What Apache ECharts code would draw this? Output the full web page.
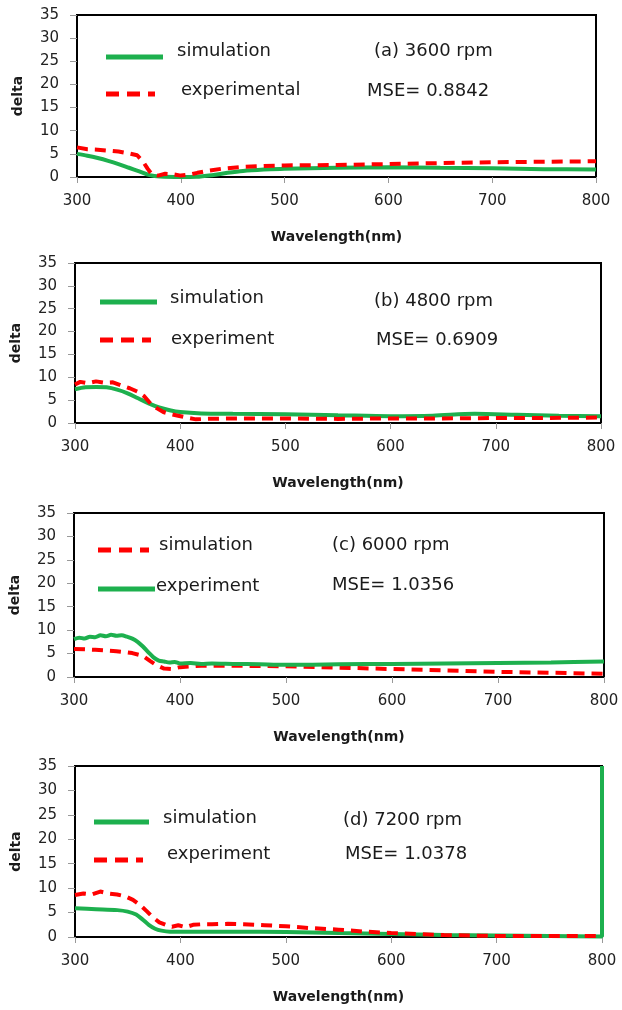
<!DOCTYPE html>
<html>
<head>
<meta charset="utf-8">
<script src="https://cdn.jsdelivr.net/npm/echarts@6/dist/echarts.min.js"></script>
<style>
  html, body { margin: 0; padding: 0; background: #fff; }
  #chart { width: 622px; height: 1010px; }
</style>
</head>
<body>
<div id="chart"></div>
<script>
// wavelength (nm), delta
const aSim = [[300,5.0],[310,4.6],[320,4.1],[330,3.5],[340,2.8],[350,2.0],[360,1.2],[370,0.4],[380,0.1],[400,0.0],[415,0.05],[430,0.4],[445,0.9],[460,1.3],[480,1.6],[500,1.8],[550,2.0],[600,2.1],[650,2.0],[700,1.9],[750,1.7],[800,1.6]]
const aExp = [[300,6.4],[310,6.0],[320,5.9],[330,5.7],[340,5.5],[350,5.1],[358,4.7],[364,3.2],[368,1.8],[372,0.6],[378,0.3],[385,0.7],[392,0.6],[400,0.3],[408,0.5],[416,0.9],[425,1.3],[440,1.8],[460,2.2],[480,2.4],[500,2.5],[550,2.6],[600,2.8],[650,3.0],[700,3.2],[750,3.3],[800,3.4]]

const bSim = [[300,7.4],[310,7.8],[320,7.9],[330,7.8],[340,7.3],[350,6.5],[360,5.4],[370,4.3],[380,3.4],[390,2.8],[400,2.4],[420,2.1],[450,2.0],[500,1.9],[550,1.7],[600,1.5],[640,1.6],[680,2.0],[720,1.8],[760,1.6],[800,1.5]]
const bExp = [[300,8.4],[305,9.0],[312,8.7],[320,9.1],[328,8.8],[336,8.9],[344,8.2],[352,7.6],[360,6.8],[366,5.8],[372,4.2],[378,3.2],[384,2.4],[390,2.0],[398,1.6],[406,1.2],[415,0.8],[425,0.9],[450,1.0],[500,1.0],[550,0.9],[600,1.0],[650,1.0],[700,1.1],[750,1.1],[800,1.2]]

const cSim = [[300,6.0],[320,5.8],[340,5.5],[355,5.1],[365,4.5],[372,3.4],[378,2.5],[385,1.8],[392,1.7],[400,2.1],[420,2.4],[450,2.4],[500,2.3],[550,2.0],[600,1.7],[650,1.4],[700,1.1],[750,0.9],[800,0.7]]
const cExp = [[300,8.1],[305,8.4],[310,8.2],[315,8.6],[320,8.5],[325,8.9],[330,8.7],[335,9.0],[340,8.8],[345,8.9],[350,8.6],[355,8.2],[360,7.5],[365,6.5],[370,5.3],[375,4.2],[380,3.5],[385,3.3],[390,3.1],[395,3.2],[400,2.9],[410,3.0],[420,2.8],[430,2.9],[450,2.8],[475,2.7],[500,2.6],[550,2.7],[600,2.8],[650,2.9],[700,3.0],[750,3.1],[800,3.3]]

const dSim = [[300,5.9],[320,5.7],[340,5.5],[350,5.2],[358,4.6],[364,3.6],[370,2.5],[376,1.7],[382,1.3],[390,1.1],[400,1.1],[450,1.1],[500,1.0],[550,0.8],[600,0.6],[650,0.4],[700,0.3],[750,0.2],[800,0.1],[800,35]]
const dExp = [[300,8.6],[308,8.9],[316,8.7],[324,9.3],[332,8.9],[340,8.7],[348,8.3],[355,7.6],[362,6.5],[368,5.3],[374,4.0],[380,3.0],[386,2.5],[392,2.1],[398,2.4],[405,2.0],[412,2.5],[420,2.6],[430,2.6],[445,2.7],[460,2.6],[480,2.4],[500,2.2],[525,1.8],[550,1.5],[575,1.1],[600,0.8],[625,0.6],[650,0.4],[700,0.2],[750,0.2],[800,0.2]]

const panelTitles = ['(a) 3600 rpm', '(b) 4800 rpm', '(c) 6000 rpm', '(d) 7200 rpm']
const mseLabels = ['MSE= 0.8842', 'MSE= 0.6909', 'MSE= 1.0356', 'MSE= 1.0378']

const GREEN = '#1db04e'
const RED = '#ff0000'
const TXT = '#1a1a1a'
const FONT = 'DejaVu Sans'

const grids = [
  { left: 77, right: 26, top: 15, height: 162 },
  { left: 75, right: 21, top: 263, height: 160 },
  { left: 73, right: 18, top: 513, height: 164 },
  { left: 75, right: 20, top: 766, height: 171 },
]

function xAxis(i) {
  return {
    gridIndex: i, type: 'value', min: 300, max: 800, interval: 100,
    name: 'Wavelength(nm)', nameLocation: 'middle', nameGap: 53,
    nameTextStyle: { fontFamily: FONT, fontSize: 14, fontWeight: 'bold', color: TXT },
    axisLine: { lineStyle: { color: '#000', width: 2 } },
    axisTick: { lineStyle: { color: '#999' }, length: 6 },
    axisLabel: { fontFamily: FONT, fontSize: 15, color: '#222', margin: 17 },
    splitLine: { show: false },
  }
}

function yAxis(i) {
  return {
    gridIndex: i, type: 'value', min: 0, max: 35, interval: 5,
    name: 'delta', nameLocation: 'middle', nameGap: 52,
    nameTextStyle: { fontFamily: FONT, fontSize: 14, fontWeight: 'bold', color: TXT },
    axisLine: { show: true, lineStyle: { color: '#000', width: 2 } },
    axisTick: { show: true, lineStyle: { color: '#999' }, length: 7 },
    axisLabel: { fontFamily: FONT, fontSize: 15, color: '#222', margin: 18 },
    splitLine: { show: false },
  }
}

function solid(i, data) {
  return {
    type: 'line', xAxisIndex: i, yAxisIndex: i, data, showSymbol: false, smooth: 0.3,
    lineStyle: { color: GREEN, width: 4 }, animation: false,
  }
}

function dashed(i, data) {
  return {
    type: 'line', xAxisIndex: i, yAxisIndex: i, data, showSymbol: false,
    lineStyle: { color: RED, width: 4, type: [11, 7] }, animation: false,
  }
}

// legend-like keys drawn by hand, one block per panel
function keyLine(x1, x2, y, dash, color) {
  return {
    type: 'line', shape: { x1, y1: y, x2, y2: y },
    style: { stroke: color, lineWidth: 5, lineDash: dash ? [13, 8] : null },
  }
}
function label(x, y, text) {
  return {
    type: 'text', x, y,
    style: { text, fill: TXT, font: `18px "${FONT}"`, verticalAlign: 'middle' },
  }
}

const graphic = [
  keyLine(106, 163, 57, false, GREEN), label(177, 51, 'simulation'),
  keyLine(106, 155, 94, true, RED), label(181, 90, 'experimental'),
  label(374, 51, panelTitles[0]), label(367, 91, mseLabels[0]),

  keyLine(100, 157, 302, false, GREEN), label(170, 298, 'simulation'),
  keyLine(100, 151, 340, true, RED), label(171, 339, 'experiment'),
  label(374, 301, panelTitles[1]), label(376, 340, mseLabels[1]),

  keyLine(98, 149, 550, true, RED), label(159, 545, 'simulation'),
  keyLine(98, 155, 589, false, GREEN), label(156, 586, 'experiment'),
  label(332, 545, panelTitles[2]), label(332, 585, mseLabels[2]),

  keyLine(94, 149, 822, false, GREEN), label(163, 818, 'simulation'),
  keyLine(94, 143, 860, true, RED), label(167, 854, 'experiment'),
  label(343, 820, panelTitles[3]), label(345, 854, mseLabels[3]),
]

const chart = echarts.init(document.getElementById('chart'))
chart.setOption({
  backgroundColor: '#fff',
  animation: false,
  grid: grids.map((g) => ({ ...g, show: true, borderColor: '#000', borderWidth: 2, backgroundColor: 'transparent' })),
  xAxis: [0, 1, 2, 3].map(xAxis),
  yAxis: [0, 1, 2, 3].map(yAxis),
  series: [
    solid(0, aSim), dashed(0, aExp),
    solid(1, bSim), dashed(1, bExp),
    dashed(2, cSim), solid(2, cExp),
    solid(3, dSim), dashed(3, dExp),
  ],
  graphic,
})
</script>
</body>
</html>
